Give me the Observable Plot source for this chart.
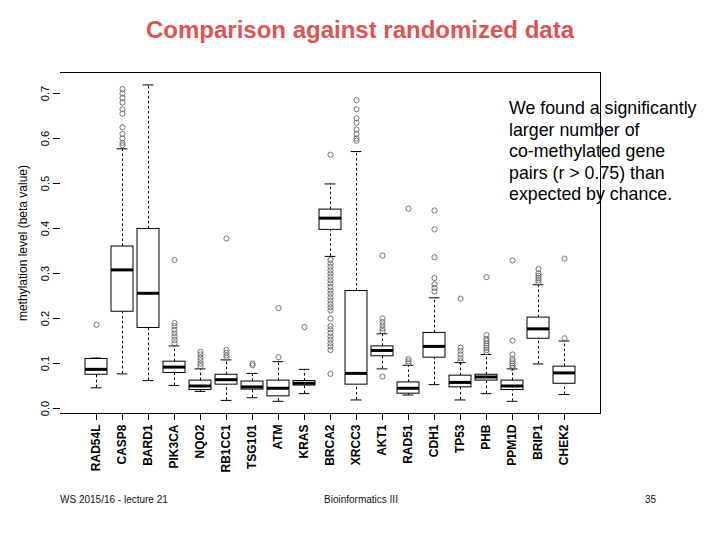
<!DOCTYPE html>
<html>
<head>
<meta charset="utf-8">
<script src="https://cdn.jsdelivr.net/npm/d3@7"></script>
<script src="https://cdn.jsdelivr.net/npm/@observablehq/plot@0.6"></script>
<style>
  html, body { margin: 0; padding: 0; background: #fff; }
  #wrap { position: relative; width: 720px; height: 540px; font-family: Arial, "Liberation Sans", sans-serif; overflow: hidden; }
  #chart { position: absolute; left: 0; top: 0; }
  .abs { position: absolute; white-space: nowrap; }
  #title { left: 0; width: 720px; text-align: center; top: 16px; font-size: 24px; font-weight: bold; color: #e05353; }
  #note { left: 509px; top: 98px; font-size: 17.8px; line-height: 21.6px; color: #000; }
  .foot { top: 494px; font-size: 10px; color: #111; }
</style>
</head>
<body>
<div id="wrap">
  <div id="chart"></div>
  <div id="title" class="abs">Comparison against randomized data</div>
  <div id="note" class="abs">We found a significantly<br>larger number of<br>co-methylated gene<br>pairs (r &gt; 0.75) than<br>expected by chance.</div>
  <div class="abs foot" style="left:60px">WS 2015/16 - lecture 21</div>
  <div class="abs foot" style="left:324px">Bioinformatics III</div>
  <div class="abs foot" style="left:645px">35</div>
</div>
<script>
const genes = ["RAD54L","CASP8","BARD1","PIK3CA","NQO2","RB1CC1","TSG101","ATM","KRAS","BRCA2","XRCC3","AKT1","RAD51","CDH1","TP53","PHB","PPM1D","BRIP1","CHEK2"];
const whiskerLow  = [0.046,0.077,0.062,0.051,0.038,0.018,0.024,0.016,0.033,0.338,0.019,0.088,0.030,0.053,0.019,0.033,0.016,0.099,0.031];
const q1          = [0.075,0.215,0.179,0.079,0.041,0.053,0.042,0.027,0.051,0.397,0.053,0.116,0.033,0.113,0.047,0.062,0.041,0.155,0.055];
const median      = [0.087,0.308,0.256,0.092,0.050,0.064,0.048,0.045,0.056,0.423,0.078,0.129,0.045,0.138,0.058,0.070,0.050,0.177,0.079];
const q3          = [0.110,0.360,0.399,0.104,0.062,0.075,0.060,0.062,0.061,0.442,0.261,0.138,0.058,0.168,0.073,0.075,0.062,0.202,0.093];
const whiskerHigh = [0.112,0.577,0.719,0.139,0.088,0.108,0.078,0.104,0.087,0.499,0.571,0.166,0.096,0.246,0.102,0.120,0.088,0.275,0.150];
const outliers = [
  [0.186],
  [0.585,0.59,0.60,0.61,0.625,0.655,0.665,0.68,0.69,0.70,0.71],
  [],
  [0.145,0.152,0.16,0.167,0.175,0.183,0.19,0.33],
  [0.094,0.10,0.107,0.113,0.12,0.126],
  [0.113,0.118,0.124,0.13,0.378],
  [0.096,0.10],
  [0.114,0.223],
  [0.181],
  [0.564,0.33,0.322,0.315,0.307,0.30,0.293,0.285,0.278,0.27,0.262,0.255,0.247,0.24,0.232,0.225,0.218,0.20,0.183,0.176,0.168,0.16,0.153,0.145,0.138,0.13,0.077],
  [0.595,0.60,0.61,0.62,0.635,0.645,0.665,0.685],
  [0.172,0.178,0.185,0.192,0.20,0.34,0.071],
  [0.10,0.105,0.11,0.444],
  [0.26,0.268,0.276,0.29,0.336,0.398,0.44],
  [0.105,0.112,0.12,0.128,0.135,0.244],
  [0.125,0.13,0.135,0.14,0.145,0.15,0.155,0.163,0.292],
  [0.09,0.095,0.10,0.105,0.11,0.12,0.151,0.329],
  [0.28,0.285,0.29,0.295,0.30,0.31],
  [0.156,0.333]
];
const yTicks = [0,0.1,0.2,0.3,0.4,0.5,0.6,0.7];
const yTitle = "methylation level (beta value)";

const stats = genes.map((g,i) => ({gene:g, lo:whiskerLow[i], q1:q1[i], med:median[i], q3:q3[i], hi:whiskerHigh[i]}));
const outs = genes.flatMap((g,i) => outliers[i].map(v => ({gene:g, v})));

const chart = Plot.plot({
  width: 720, height: 540,
  marginTop: 72, marginBottom: 127, marginLeft: 60, marginRight: 120,
  style: {fontFamily: "Arial, 'Liberation Sans', sans-serif", background: "transparent", color: "#000"},
  x: {domain: genes, range: [80, 580], padding: 0, axis: null},
  y: {domain: [0, 0.7], range: [408, 93], axis: null},
  marks: [
    Plot.frame({anchor: "top", stroke: "#000"}),
    Plot.frame({anchor: "right", stroke: "#000"}),
    Plot.frame({anchor: "bottom", stroke: "#000"}),
    Plot.axisX({tickRotate: -90, tickSize: 7, tickPadding: 4, fontSize: 12, fontWeight: "bold", label: null, stroke: "#000", fill: "#000"}),
    Plot.axisY({ticks: yTicks, tickSize: 7, tickFormat: () => "", label: null, stroke: "#000"}),
    Plot.text(yTicks, {y: d => d, text: d3.format(".1f"), frameAnchor: "left", textAnchor: "middle", dx: -15, rotate: -90, fontSize: 11, fill: "#000"}),
    Plot.text([yTitle], {text: d => d, frameAnchor: "left", textAnchor: "middle", dx: -37, rotate: -90, fontSize: 12, fill: "#000"}),
    Plot.ruleX(stats, {x: "gene", y1: "q3", y2: "hi", stroke: "#000", strokeDasharray: "2.5,2.5"}),
    Plot.ruleX(stats, {x: "gene", y1: "lo", y2: "q1", stroke: "#000", strokeDasharray: "2.5,2.5"}),
    Plot.tickY(stats, {x: "gene", y: "hi", stroke: "#000", insetLeft: 7.6, insetRight: 7.6}),
    Plot.tickY(stats, {x: "gene", y: "lo", stroke: "#000", insetLeft: 7.6, insetRight: 7.6}),
    Plot.barY(stats, {x: "gene", y1: "q1", y2: "q3", fill: "#fff", stroke: "#000", insetLeft: 2, insetRight: 2}),
    Plot.tickY(stats, {x: "gene", y: "med", stroke: "#000", strokeWidth: 3, insetLeft: 2, insetRight: 2}),
    Plot.dot(outs, {x: "gene", y: "v", r: 2.6, stroke: "#666", strokeWidth: 0.9, fill: "none"})
  ]
});
document.getElementById("chart").appendChild(chart);
</script>
</body>
</html>
